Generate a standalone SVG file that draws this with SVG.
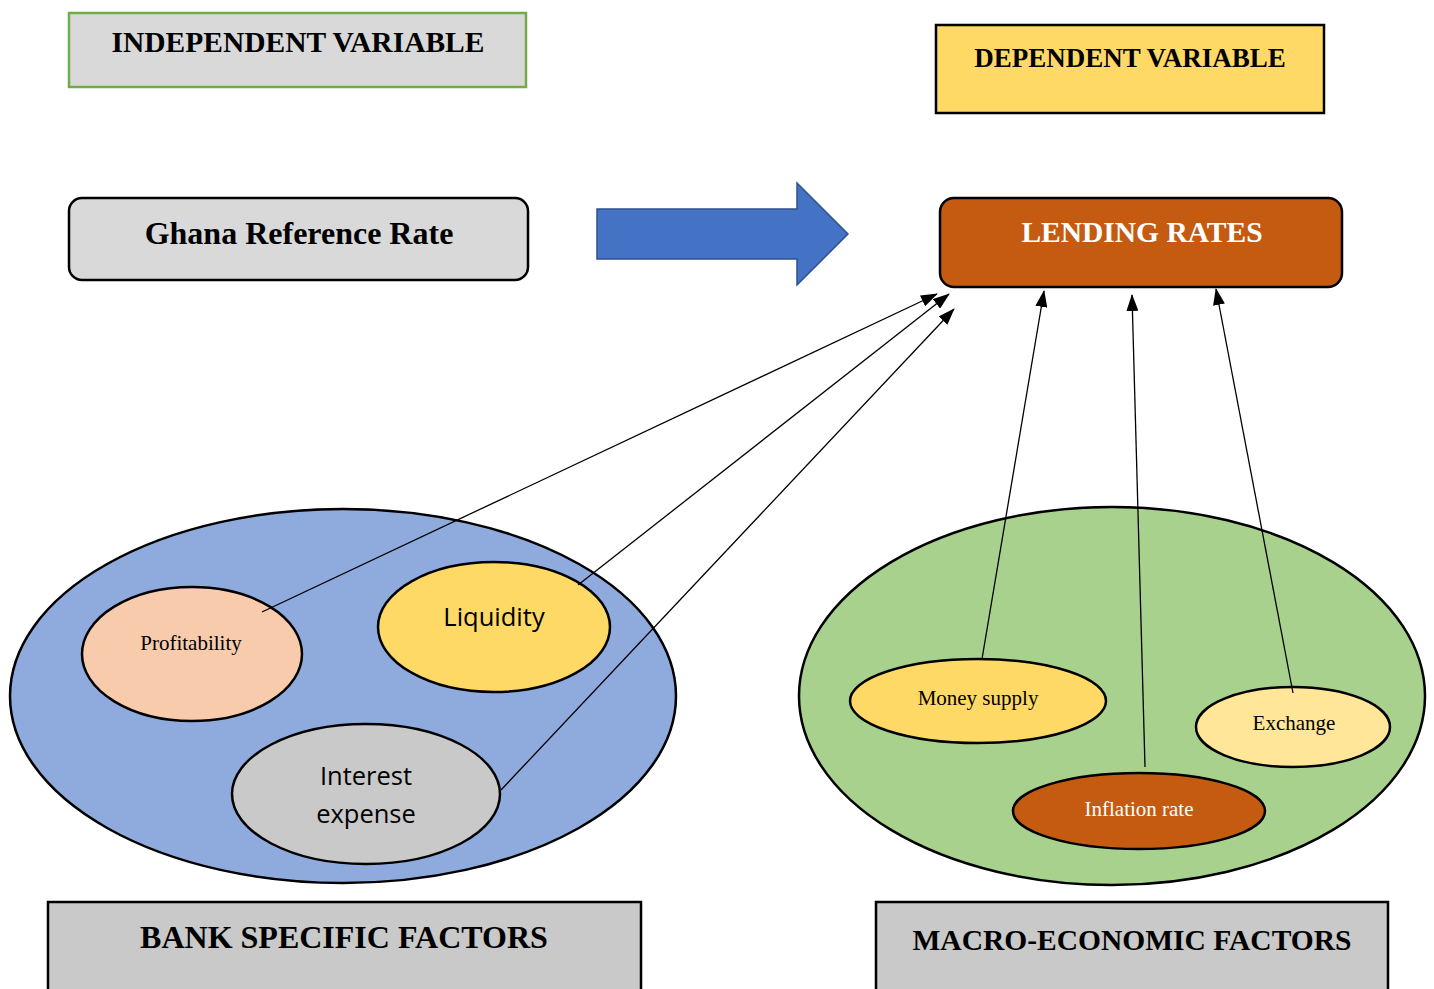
<svg xmlns="http://www.w3.org/2000/svg" width="1434" height="989" viewBox="0 0 1434 989">
  <style>
    .serifb { font-family: "Liberation Serif", "Times New Roman", serif; font-weight: bold; fill: #000; text-anchor: middle; }
    .serif { font-family: "Liberation Serif", "Times New Roman", serif; fill: #000; text-anchor: middle; }
    .sans { font-family: "Open Sans", "Liberation Sans", sans-serif; fill: #000; text-anchor: middle; }
    .shape { stroke: #000; stroke-width: 2.5; }
    .conn { stroke: #000; stroke-width: 1.3; fill: none; marker-end: url(#head); }
  </style>
  <defs>
    <marker id="head" markerUnits="userSpaceOnUse" markerWidth="17" markerHeight="12" refX="16" refY="6" orient="auto">
      <path d="M0,0 L17,6 L0,12 Z" fill="#000"/>
    </marker>
  </defs>
  <rect width="1434" height="989" fill="#fff"/>

  <g id="independent-variable">
    <rect x="69" y="13" width="457" height="74" fill="#d9d9d9" stroke="#70ad47" stroke-width="2.5"/>
    <text class="serifb" x="298" y="52" font-size="29.5">INDEPENDENT VARIABLE</text>
  </g>

  <g id="dependent-variable">
    <rect x="936" y="25" width="388" height="88" fill="#ffd966" class="shape"/>
    <text class="serifb" x="1130" y="67" font-size="27">DEPENDENT VARIABLE</text>
  </g>

  <g id="ghana-reference-rate">
    <rect x="69" y="198" width="459" height="82" rx="13" fill="#d9d9d9" class="shape"/>
    <text class="serifb" x="299" y="244" font-size="32">Ghana Reference Rate</text>
  </g>

  <g id="main-arrow">
    <polygon points="597,209 797,209 797,183 848,234 797,285 797,259 597,259" fill="#4472c4" stroke="#2f528f" stroke-width="1.5"/>
  </g>

  <g id="lending-rates">
    <rect x="940" y="198" width="402" height="89" rx="14" fill="#c55a11" class="shape"/>
    <text class="serifb" x="1142" y="242" font-size="29.5" style="fill:#fff">LENDING RATES</text>
  </g>

  <g id="bank-specific">
    <ellipse cx="343" cy="696" rx="333" ry="187" fill="#8faadc" class="shape"/>
  </g>
  <g id="profitability">
    <ellipse cx="192" cy="654" rx="110" ry="67" fill="#f8cbad" class="shape"/>
    <text class="serif" x="191" y="650" font-size="21">Profitability</text>
  </g>
  <g id="liquidity">
    <ellipse cx="494" cy="627" rx="116" ry="65" fill="#ffd966" class="shape"/>
    <text class="sans" x="494" y="626" font-size="25.5">Liquidity</text>
  </g>
  <g id="interest-expense">
    <ellipse cx="366" cy="794" rx="134" ry="70" fill="#c9c9c9" class="shape"/>
    <text class="sans" x="366" y="785" font-size="25.5">Interest</text>
    <text class="sans" x="366" y="823" font-size="25.5">expense</text>
  </g>

  <g id="macro-economic">
    <ellipse cx="1112" cy="696" rx="313" ry="189" fill="#a9d18e" class="shape"/>
  </g>
  <g id="money-supply">
    <ellipse cx="978" cy="701" rx="128" ry="42" fill="#ffd966" class="shape"/>
    <text class="serif" x="978" y="705" font-size="21">Money supply</text>
  </g>
  <g id="exchange">
    <ellipse cx="1293" cy="727" rx="97" ry="40" fill="#ffe699" class="shape"/>
    <text class="serif" x="1294" y="730" font-size="21">Exchange</text>
  </g>
  <g id="inflation-rate">
    <ellipse cx="1139" cy="811" rx="126" ry="38" fill="#c55a11" class="shape"/>
    <text class="serif" x="1139" y="816" font-size="21" style="fill:#fff">Inflation rate</text>
  </g>

  <g id="connectors">
    <line class="conn" x1="262" y1="612" x2="937" y2="294"/>
    <line class="conn" x1="578" y1="585" x2="949" y2="294"/>
    <line class="conn" x1="501" y1="790" x2="954" y2="309"/>
    <line class="conn" x1="982" y1="659" x2="1044" y2="291"/>
    <line class="conn" x1="1145" y1="767" x2="1132" y2="295"/>
    <line class="conn" x1="1293" y1="693" x2="1216" y2="289"/>
  </g>

  <g id="bank-specific-factors">
    <rect x="48" y="902" width="593" height="100" fill="#c9c9c9" class="shape"/>
    <text class="serifb" x="344" y="948" font-size="32">BANK SPECIFIC FACTORS</text>
  </g>

  <g id="macro-economic-factors">
    <rect x="876" y="902" width="512" height="100" fill="#c9c9c9" class="shape"/>
    <text class="serifb" x="1132" y="950" font-size="29.5">MACRO-ECONOMIC FACTORS</text>
  </g>
</svg>
